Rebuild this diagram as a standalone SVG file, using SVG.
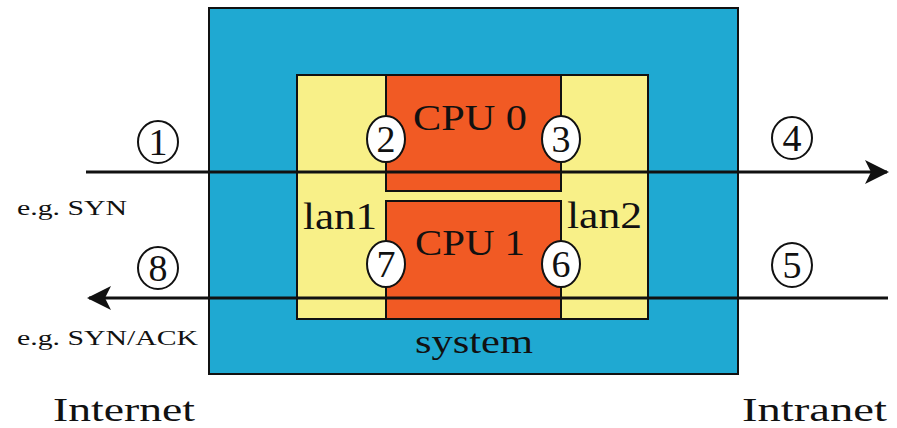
<svg xmlns="http://www.w3.org/2000/svg" width="897" height="428" viewBox="0 0 897 428">
<style>
.box{stroke:#111;stroke-width:2}
.t{font-family:"Liberation Serif","DejaVu Serif",serif;fill:#111}
.num{font-family:"Liberation Serif","DejaVu Serif",serif;font-size:38px;fill:#111;text-anchor:middle}
.ring{fill:none;stroke:#111;stroke-width:2}
.ringw{fill:#fff;stroke:#111;stroke-width:2}
.wire{stroke:#111;stroke-width:3;fill:none}
</style>
<defs>
<marker id="ah" viewBox="0 0 24 24" refX="22" refY="12" markerWidth="24" markerHeight="24" markerUnits="userSpaceOnUse" orient="auto">
<path d="M0,0 L24,12 L0,24 L6,12 Z" fill="#111"/>
</marker>
</defs>
<rect width="897" height="428" fill="#fff"/>
<g id="system">
<rect class="box" x="209" y="8" width="529" height="366" fill="#1fa9d2"/>
<text class="t" x="415" y="353" font-size="34" textLength="118" lengthAdjust="spacingAndGlyphs" fill="#0d2530">system</text>
</g>
<g id="lan">
<rect class="box" x="297" y="75" width="351" height="244" fill="#f8f088"/>
<text class="t" x="303" y="229" font-size="37" textLength="74" lengthAdjust="spacingAndGlyphs">lan1</text>
<text class="t" x="567" y="228" font-size="37" textLength="75" lengthAdjust="spacingAndGlyphs">lan2</text>
</g>
<g id="cpu0">
<rect class="box" x="386" y="75" width="175" height="116" fill="#f15a24"/>
<text class="t" x="413" y="130" font-size="36" textLength="114" lengthAdjust="spacingAndGlyphs" fill="#4a1208">CPU 0</text>
</g>
<g id="cpu1">
<rect class="box" x="386" y="201" width="175" height="118" fill="#f15a24"/>
<text class="t" x="415" y="255" font-size="36" textLength="110" lengthAdjust="spacingAndGlyphs" fill="#4a1208">CPU 1</text>
</g>
<g id="connectors">
<line class="wire" x1="86" y1="172" x2="887" y2="172" marker-end="url(#ah)"/>
<line class="wire" x1="888" y1="298" x2="89" y2="298" marker-end="url(#ah)"/>
</g>
<g id="step1"><ellipse class="ring" cx="158" cy="142" rx="20" ry="21"/><text class="num" x="158" y="155">1</text></g>
<g id="step2"><ellipse class="ringw" cx="386" cy="139" rx="19" ry="23"/><text class="num" x="386" y="152">2</text></g>
<g id="step3"><ellipse class="ringw" cx="561" cy="139" rx="19" ry="23"/><text class="num" x="561" y="152">3</text></g>
<g id="step4"><ellipse class="ring" cx="792" cy="138" rx="20" ry="21"/><text class="num" x="792" y="151">4</text></g>
<g id="step5"><ellipse class="ring" cx="792" cy="265" rx="20" ry="22"/><text class="num" x="792" y="278">5</text></g>
<g id="step6"><ellipse class="ringw" cx="561" cy="264" rx="19" ry="23"/><text class="num" x="561" y="277">6</text></g>
<g id="step7"><ellipse class="ringw" cx="386" cy="264" rx="19" ry="23"/><text class="num" x="386" y="277">7</text></g>
<g id="step8"><ellipse class="ring" cx="158" cy="268" rx="20" ry="21"/><text class="num" x="158" y="281">8</text></g>
<g id="labels">
<text class="t" x="17" y="215" font-size="22" textLength="110" lengthAdjust="spacingAndGlyphs">e.g. SYN</text>
<text class="t" x="17" y="345" font-size="22" textLength="181" lengthAdjust="spacingAndGlyphs">e.g. SYN/ACK</text>
<text class="t" x="53" y="421" font-size="34" textLength="142" lengthAdjust="spacingAndGlyphs">Internet</text>
<text class="t" x="742" y="421" font-size="34" textLength="145" lengthAdjust="spacingAndGlyphs">Intranet</text>
</g>
</svg>
